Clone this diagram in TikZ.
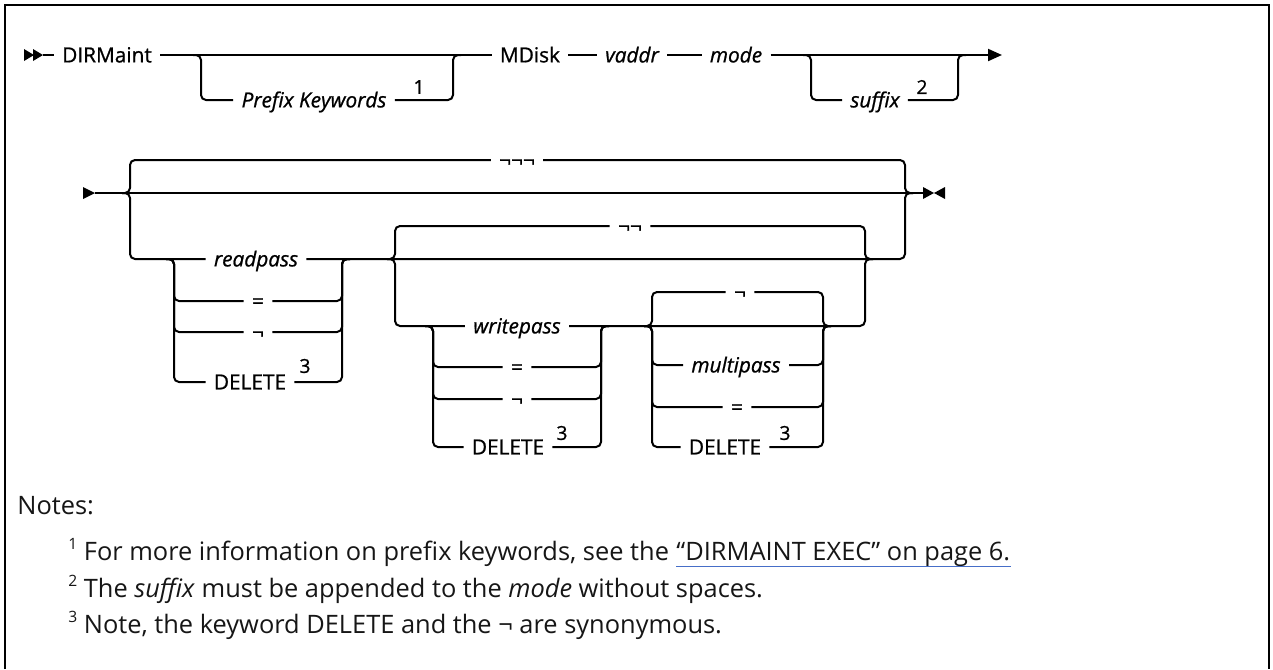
\documentclass[tikz,border=0pt]{standalone}
\usepackage{fontspec}
\setmainfont{Open Sans}
\newfontfamily\railfont[FakeBold=0.9]{Open Sans}
\usetikzlibrary{arrows.meta}
\definecolor{ink}{RGB}{22,22,22}
\definecolor{linkblue}{RGB}{70,110,200}
\newcommand{\notemark}[1]{\raisebox{5.5pt}{\fontsize{7.8}{8}\selectfont #1}}
\tikzset{
  rail/.style={line width=1pt,draw=black,rounded corners=2.5pt},
  kw/.style={font=\railfont\fontsize{10.4}{12}\selectfont,inner xsep=4pt,inner ysep=0pt,
    text height=7.4pt,text depth=0pt},
  var/.style={kw,font=\railfont\fontsize{10.4}{12}\selectfont\itshape},
  fn/.style={font=\railfont\fontsize{9.6}{10}\selectfont,inner sep=0pt},
  note/.style={font=\fontsize{12.7}{15}\selectfont,text=ink,inner sep=0pt,anchor=base west},
  frame/.style={line width=1.1pt},
}
\begin{document}
\begin{tikzpicture}[x=0.5pt,y=-0.5pt]
  \useasboundingbox (0,0) rectangle (1273,669);
  % frame, open at the bottom
  \draw[frame] (5,669) -- (5,5) -- (1269,5) -- (1269,669);

  % first line
  \node[kw] (dirm) at (107,55) {DIRMaint};
  \node[var] (pre) at (314,100) {Prefix Keywords};
  \node[kw] (mdisk) at (530,55) {MDisk};
  \node[var] (vaddr) at (632,55) {vaddr};
  \node[var] (mode) at (736,55) {mode};
  \node[var] (suf) at (875,100) {suffix};
  \node[fn] (f1) at (419,87) {1};
  \node[fn] (f2) at (922,87) {2};
  \coordinate (s1) at (43,55);
  \coordinate (e1) at (1002,55);
  \coordinate (pL) at (201,55); \coordinate (pR) at (453,55);
  \coordinate (sL) at (811,55); \coordinate (sR) at (958,55);

  \fill (24,49) -- (34,55) -- (24,61) -- cycle;
  \fill (33,49) -- (43,55) -- (33,61) -- cycle;
  \draw[rail] (s1) -- (dirm) -- (mdisk) -- (vaddr) -- (mode);
  \draw[rail,-{Triangle[length=7pt,width=6pt]}] (mode) -- (e1);
  \draw[rail] ([xshift=-4pt]pL) -- (pL) |- (pre.west);
  \draw[rail] (pre.east) -| (pR) -- ([xshift=4pt]pR);
  \draw[rail] ([xshift=-4pt]sL) -- (sL) |- (suf.west);
  \draw[rail] (suf.east) -| (sR) -- ([xshift=4pt]sR);

  % second line
  \coordinate (s2) at (95,193); \coordinate (e2) at (923,193);
  \coordinate (j1) at (130,193); \coordinate (j2) at (905,193);
  \coordinate (j3) at (395,259); \coordinate (j4) at (865,259);
  \coordinate (rpL) at (174,259); \coordinate (rpR) at (342,259);
  \coordinate (wpL) at (433,326); \coordinate (wpR) at (601,326);
  \coordinate (mpL) at (652,326); \coordinate (mpR) at (823,326);

  \node[kw] (d3) at (517,160) {¬¬¬};
  \node[kw] (d2) at (630,226) {¬¬};
  \node[kw] (d1) at (740,292) {¬};

  \node[var] (rp1) at (256,259) {readpass};
  \node[kw] (rp2) at (258,301) {=};
  \node[kw] (rp3) at (258,332) {¬};
  \node[kw] (rp4) at (250,382) {DELETE};
  \node[fn] (f3) at (305,366) {3};

  \node[var] (wp1) at (517,326) {writepass};
  \node[kw] (wp2) at (517,367) {=};
  \node[kw] (wp3) at (517,399) {¬};
  \node[kw] (wp4) at (508,447) {DELETE};
  \node[fn] (f4) at (562,433) {3};

  \node[var] (mp1) at (736,365) {multipass};
  \node[kw] (mp2) at (737,407) {=};
  \node[kw] (mp3) at (725,447) {DELETE};
  \node[fn] (f5) at (785,433) {3};

  \fill (83,187) -- (95,193) -- (83,199) -- cycle;
  \fill (923,187) -- (934,193) -- (923,199) -- cycle;
  \fill (945,187) -- (934,193) -- (945,199) -- cycle;
  \draw[rail] (s2) -- (e2);
  \draw[rail] ([xshift=-4pt]j1) -- (j1) |- (d3.west);
  \draw[rail] (d3.east) -| (j2) -- ([xshift=4pt]j2);
  \draw[rail] ([xshift=-4pt]j1) -- (j1) |- (rp1.west);
  \draw[rail] (rp1.east) -| (j2) -- ([xshift=4pt]j2);
  \foreach \n in {rp2,rp3,rp4}{
    \draw[rail] ([xshift=-4pt]rpL) -- (rpL) |- (\n.west);
    \draw[rail] (\n.east) -| (rpR) -- ([xshift=4pt]rpR);
  }
  \draw[rail] ([xshift=-4pt]j3) -- (j3) |- (d2.west);
  \draw[rail] (d2.east) -| (j4) -- ([xshift=4pt]j4);
  \draw[rail] ([xshift=-4pt]j3) -- (j3) |- (wp1.west);
  \draw[rail] (wp1.east) -| (j4) -- ([xshift=4pt]j4);
  \foreach \n in {wp2,wp3,wp4}{
    \draw[rail] ([xshift=-4pt]wpL) -- (wpL) |- (\n.west);
    \draw[rail] (\n.east) -| (wpR) -- ([xshift=4pt]wpR);
  }
  \draw[rail] ([xshift=-4pt]mpL) -- (mpL) |- (d1.west);
  \draw[rail] (d1.east) -| (mpR) -- ([xshift=4pt]mpR);
  \foreach \n in {mp1,mp2,mp3}{
    \draw[rail] ([xshift=-4pt]mpL) -- (mpL) |- (\n.west);
    \draw[rail] (\n.east) -| (mpR) -- ([xshift=4pt]mpR);
  }

  % notes
  \node[note] (notes) at (17,514) {Notes:};
  \node[note] (n1) at (68,560) {\notemark{1} For more information on prefix keywords, see the};
  \node[note] (lnk) at ([xshift=3.3pt]n1.base east) {“DIRMAINT EXEC” on page 6.};
  \draw[linkblue,line width=0.7pt] (lnk.south west) -- (lnk.south east);
  \node[note] (n2) at (68,597) {\notemark{2} The \textit{suffix} must be appended to the \textit{mode} without spaces.};
  \node[note] (n3) at (68,633) {\notemark{3} Note, the keyword DELETE and the ¬ are synonymous.};
\end{tikzpicture}
\end{document}
